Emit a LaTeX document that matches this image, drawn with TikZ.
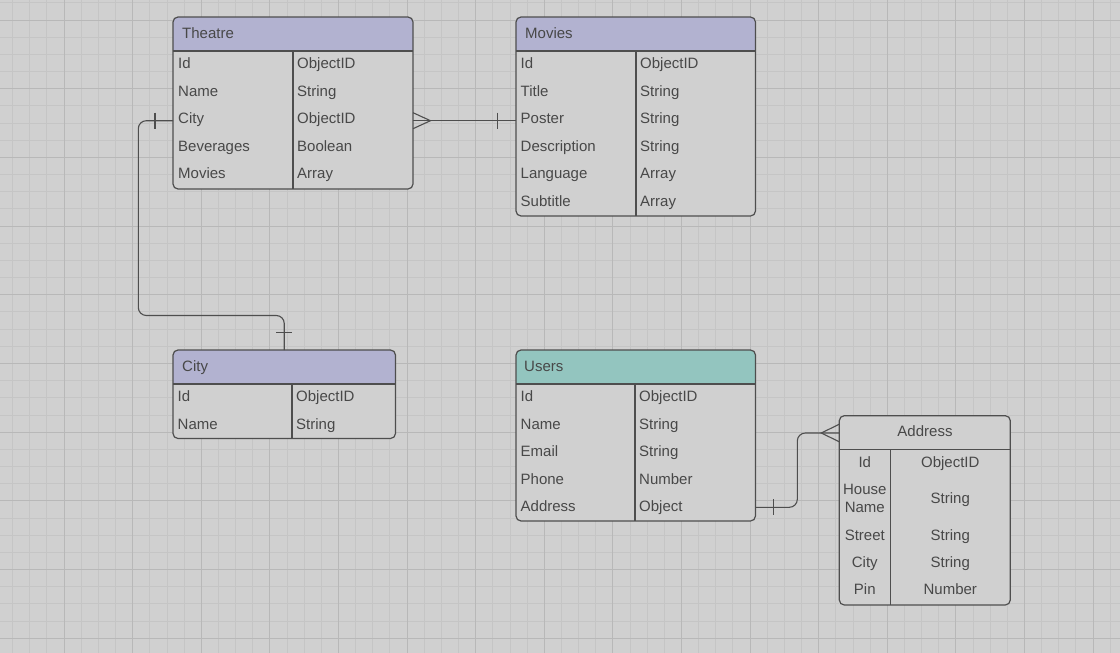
\documentclass[tikz,border=0pt]{standalone}
\usepackage{fontspec}
\setmainfont{Liberation Sans}
\usetikzlibrary{calc}
\definecolor{bgc}{HTML}{D0D0D0}
\definecolor{gridminor}{HTML}{C5C5C5}
\definecolor{gridmajor}{HTML}{B8B8B8}
\definecolor{hdrpurple}{HTML}{B2B2D0}
\definecolor{hdrteal}{HTML}{93C5BF}
\definecolor{inkc}{HTML}{484848}
\definecolor{linec}{HTML}{4E4E4E}
\newcommand\mkertable[7]{% name, left, top, width, height, header colour, divider x
  \node[tblfill, minimum width=#4pt, minimum height=#5pt, anchor=north west] (#1) at (#2,#3) {};
  \begin{scope}
    \clip[rounded corners=5] (#1.north west) rectangle (#1.south east);
    \fill[#6] (#1.north west) rectangle ($(#1.north east)+(0,34)$);
  \end{scope}
  \draw[tblline] ($(#1.north west)+(0,34)$) -- ($(#1.north east)+(0,34)$);
  \draw[tblline] (#7,#3+34) -- (#7,#3+#5);
  \draw[tblline, rounded corners=5] (#1.north west) rectangle (#1.south east);
}
\begin{document}
\begin{tikzpicture}[x=1pt,y=-1pt,
  tblfill/.style={fill=bgc, inner sep=0pt, outer sep=0pt, draw=none},
  tblline/.style={draw=linec, line width=1.2pt},
  conn/.style={draw=linec, line width=1.1pt},
  txt/.style={text=inkc, font=\fontsize{15}{18}\selectfont, inner sep=0pt},
  rowname/.style={txt, anchor=base west},
  rowtype/.style={txt, anchor=base west},
  ctr/.style={txt, anchor=base},
  hdr/.style={txt, anchor=base west}]
\fill[bgc] (0,0) rectangle (1120,653);
\useasboundingbox (0,0) rectangle (1120,653);
% grid
\foreach \k in {0,...,64} {
  \pgfmathsetmacro\xx{12.55+17.15*\k}
  \draw[gridminor, line width=0.8pt] (\xx,0) -- (\xx,653);
}
\foreach \k in {0,...,37} {
  \pgfmathsetmacro\yy{2.83+17.17*\k}
  \draw[gridminor, line width=0.8pt] (0,\yy) -- (1120,\yy);
}
\foreach \k in {0,...,15} {
  \pgfmathsetmacro\xx{64+68.6*\k}
  \draw[gridmajor, line width=1pt] (\xx,0) -- (\xx,653);
}
\foreach \k in {0,...,9} {
  \pgfmathsetmacro\yy{20+68.67*\k}
  \draw[gridmajor, line width=1pt] (0,\yy) -- (1120,\yy);
}

% tables
\mkertable{theatre}{173}{17}{240}{172}{hdrpurple}{293}
\node[hdr] (theatreT) at (182,38.5) {Theatre};
\foreach \n/\t [count=\i from 0] in {Id/ObjectID,Name/String,City/ObjectID,Beverages/Boolean,Movies/Array} {
  \node[rowname] (thN\i) at (178,68.5+27.5*\i) {\n};
  \node[rowtype] (thT\i) at (297,68.5+27.5*\i) {\t};
}

\mkertable{movies}{516}{17}{239.5}{199}{hdrpurple}{636}
\node[hdr] (moviesT) at (525,38.5) {Movies};
\foreach \n/\t [count=\i from 0] in {Id/ObjectID,Title/String,Poster/String,Description/String,Language/Array,Subtitle/Array} {
  \node[rowname] (mvN\i) at (520.5,68.5+27.5*\i) {\n};
  \node[rowtype] (mvT\i) at (640,68.5+27.5*\i) {\t};
}

\mkertable{city}{173}{350}{222.5}{88.5}{hdrpurple}{292}
\node[hdr] (cityT) at (182,371.5) {City};
\foreach \n/\t [count=\i from 0] in {Id/ObjectID,Name/String} {
  \node[rowname] (ciN\i) at (177.5,401.5+27.5*\i) {\n};
  \node[rowtype] (ciT\i) at (296,401.5+27.5*\i) {\t};
}

\mkertable{users}{516}{350}{239.5}{171}{hdrteal}{635}
\node[hdr] (usersT) at (524,371.5) {Users};
\foreach \n/\t [count=\i from 0] in {Id/ObjectID,Name/String,Email/String,Phone/Number,Address/Object} {
  \node[rowname] (usN\i) at (520.5,401.5+27.5*\i) {\n};
  \node[rowtype] (usT\i) at (639,401.5+27.5*\i) {\t};
}

\mkertable{address}{839.3}{415.7}{171}{189.3}{bgc}{890.3}
\node[ctr] (addressT) at (925,436.4) {Address};
\node[ctr] (adN0) at (864.8,467.4) {Id};
\node[ctr] (adT0) at (950.3,467.4) {ObjectID};
\node[txt, align=center, anchor=center] (adN1) at (864.8,498) {House\\Name};
\node[ctr] (adT1) at (950.3,503.4) {String};
\node[ctr] (adN2) at (864.8,540.4) {Street};
\node[ctr] (adT2) at (950.3,540.4) {String};
\node[ctr] (adN3) at (864.8,567.4) {City};
\node[ctr] (adT3) at (950.3,567.4) {String};
\node[ctr] (adN4) at (864.8,594.4) {Pin};
\node[ctr] (adT4) at (950.3,594.4) {Number};

% row anchor coordinates
\coordinate (thCityRow) at (0,120.7);
\coordinate (usAddrRow) at (0,507.3);
\coordinate (adHdrRow) at (0,433);

% Theatre -- Movies (many to one)
\draw[conn] (theatre.east |- thCityRow) -- (movies.west |- thCityRow);
\draw[conn] ($(theatre.east |- thCityRow)+(0,-8)$) -- ($(theatre.east |- thCityRow)+(17.5,0)$) -- ($(theatre.east |- thCityRow)+(0,8)$);
\draw[conn] ($(movies.west |- thCityRow)+(-18.3,-8)$) -- ($(movies.west |- thCityRow)+(-18.3,8)$);

% Theatre.City -- City (one to one)
\draw[conn, rounded corners=8] (theatre.west |- thCityRow) -- (138.3,120.7) -- (138.3,315.5) -- (city.north |- 0,315.5) -- (city.north);
\draw[conn] ($(theatre.west |- thCityRow)+(-18,-8)$) -- ($(theatre.west |- thCityRow)+(-18,8)$);
\draw[conn] ($(city.north)+(-8,-17.7)$) -- ($(city.north)+(8,-17.7)$);

% Users.Address -- Address (one to many)
\draw[conn, rounded corners=8] (users.east |- usAddrRow) -- (797.3,507.3) -- (797.3,433) -- (address.west |- adHdrRow);
\draw[conn] ($(users.east |- usAddrRow)+(17.6,-8)$) -- ($(users.east |- usAddrRow)+(17.6,8)$);
\draw[conn] ($(address.west |- adHdrRow)+(0,-8.8)$) -- ($(address.west |- adHdrRow)+(-18,0)$) -- ($(address.west |- adHdrRow)+(0,8.8)$);
\end{tikzpicture}
\end{document}
